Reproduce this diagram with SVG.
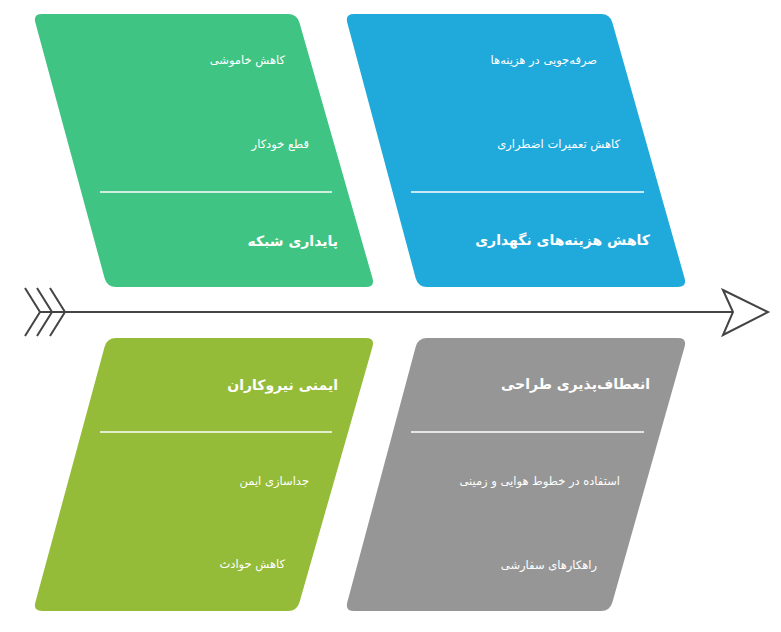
<svg xmlns="http://www.w3.org/2000/svg" width="781" height="632" viewBox="0 0 781 632">
<style>
.g1{fill:#40C483}
.b1{fill:#20A9DB}
.g2{fill:#95BC38}
.gr{fill:#969696}
.div{stroke:#FFFFFF;stroke-width:1.6}
.item{font-family:"DejaVu Sans",sans-serif;font-size:11.5px;fill:#FFFFFF;text-anchor:end}
.title{font-family:"DejaVu Sans",sans-serif;font-size:14px;font-weight:bold;fill:#FFFFFF;text-anchor:end}
.ln{stroke:#444444;stroke-width:2;fill:none}
</style>
<rect width="781" height="632" fill="#FFFFFF"/>
<g id="connectors">
<line class="ln" x1="40" y1="312" x2="733" y2="312"/>
<polyline class="ln" points="25,288 40,312 25,336"/>
<polyline class="ln" points="37,288 52,312 37,336"/>
<polyline class="ln" points="50,288 65,312 50,336"/>
<polygon points="723,290 768,312 723,335 733,312" fill="#FFFFFF" stroke="#444444" stroke-width="2" stroke-linejoin="miter"/>
</g>
<g id="node-network-stability">
<path class="g1" d="M42,14 L288,14 Q297,14 299.5,22.7 L372.5,278.3 Q375,287 366,287 L116,287 Q107,287 104.6,278.3 L35.4,22.7 Q33,14 42,14Z"/>
<text class="item" x="285" y="64">کاهش خاموشی</text>
<text class="item" x="309" y="148">قطع خودکار</text>
<line class="div" x1="100" y1="192" x2="332" y2="192"/>
<text class="title" x="338" y="246">پایداری شبکه</text>
</g>
<g id="node-maintenance-cost">
<path class="b1" d="M354,14 L601,14 Q610,14 612.4,22.7 L684.6,278.3 Q687,287 678,287 L427,287 Q418,287 415.7,278.3 L347.3,22.7 Q345,14 354,14Z"/>
<text class="item" x="597" y="64">صرفه‌جویی در هزینه‌ها</text>
<text class="item" x="620" y="148">کاهش تعمیرات اضطراری</text>
<line class="div" x1="411" y1="192" x2="644" y2="192"/>
<text class="title" x="650" y="245">کاهش هزینه‌های نگهداری</text>
</g>
<g id="node-worker-safety">
<path class="g2" d="M42,611 L288,611 Q297,611 299.5,602.3 L372.5,346.7 Q375,338 366,338 L116,338 Q107,338 104.6,346.7 L35.4,602.3 Q33,611 42,611Z"/>
<text class="title" x="338" y="390">ایمنی نیروکاران</text>
<line class="div" x1="100" y1="432" x2="332" y2="432"/>
<text class="item" x="309" y="485">جداسازی ایمن</text>
<text class="item" x="285" y="568">کاهش حوادث</text>
</g>
<g id="node-design-flexibility">
<path class="gr" d="M354,611 L601,611 Q610,611 612.4,602.3 L684.6,346.7 Q687,338 678,338 L427,338 Q418,338 415.7,346.7 L347.3,602.3 Q345,611 354,611Z"/>
<text class="title" x="650" y="389">انعطاف‌پذیری طراحی</text>
<line class="div" x1="411" y1="432" x2="644" y2="432"/>
<text class="item" x="620" y="485">استفاده در خطوط هوایی و زمینی</text>
<text class="item" x="597" y="569">راهکارهای سفارشی</text>
</g>
</svg>
